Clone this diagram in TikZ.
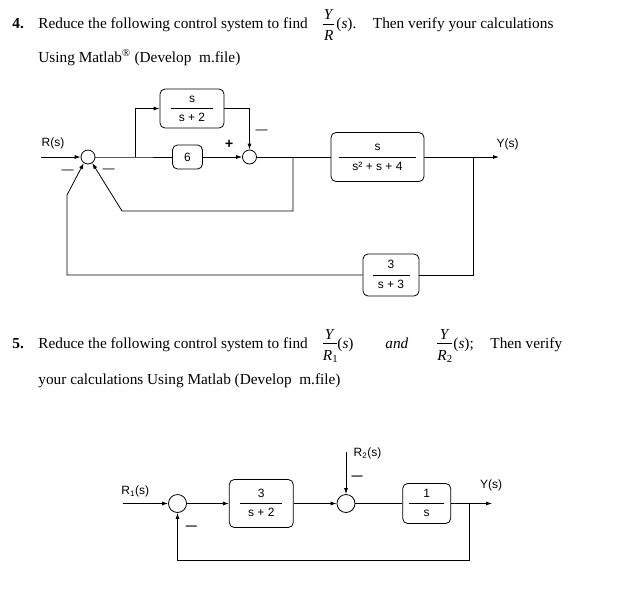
\documentclass[tikz,border=0pt]{standalone}
\usepackage{amsmath}
\usepackage{fontspec}
\setmainfont{Liberation Serif}
\newfontfamily\diagfont{Liberation Sans}
\usetikzlibrary{arrows.meta}

\newcommand{\blockfrac}[3]{\vbox{\hbox to #3{\hfil\vrule height 9pt depth 0pt width 0pt #1\hfil}\kern5.65pt\hrule height 0.7pt\kern3.65pt\hbox to #3{\hfil\vrule height 9pt depth 2pt width 0pt #2\hfil}}}
\newcommand{\qfrac}[3]{\lower12.2pt\vbox{\hbox to #3{\hfil\vrule height 10pt depth 0pt width 0pt#1\hfil}\kern4.15pt\hrule height 0.7pt\kern6.25pt\hbox to #3{\hfil\vrule height 10pt depth 0pt width 0pt#2\hfil}}}

\begin{document}
\begin{tikzpicture}[x=1pt,y=-1pt,line width=0.8pt,
	txt/.style={anchor=base west,inner sep=0pt,font=\fontsize{15.3}{18}\selectfont},
	lbl/.style={inner sep=0pt,font=\diagfont\fontsize{12}{14}\selectfont},
	block/.style={draw,rounded corners=5pt,inner sep=0pt,font=\diagfont\fontsize{12}{14}\selectfont},
	sumnode/.style={draw,circle,inner sep=0pt,minimum size=#1},
	sumnode/.default=14pt,
	sig/.style={-{Latex[length=6pt,width=4pt]}}]
	\useasboundingbox (0,0) rectangle (618,589);

	\node[txt,font=\fontsize{15.3}{18}\selectfont\bfseries] (q4num) at (12,28.5) {4.};
	\node[txt] (q4a) at (38,28.5) {Reduce the following control system to find};
	\node[txt] (q4frac) at (323,28.5) {\qfrac{\textit{Y}}{\textit{R}}{11pt}};
	\node[txt] (q4b) at (336,28.5) {(\textit{s}).};
	\node[txt] (q4c) at (372.5,28.5) {Then verify your calculations};
	\node[txt] (q4d) at (38,62) {Using Matlab\textsuperscript{\textregistered} (Develop\ \ m.file)};

	\node[sumnode] (sum1) at (88,157) {};
	\node[sumnode] (sum2) at (249.5,157) {};
	\node[block,minimum width=64pt,minimum height=39pt] (box1) at (192,108.5) {\blockfrac{s}{s + 2}{42pt}};
	\node[block,minimum width=30pt,minimum height=24pt] (box6) at (187.5,157) {6};
	\node[block,minimum width=93pt,minimum height=49pt] (box2) at (377.5,157) {\blockfrac{s}{s² + s + 4}{77pt}};
	\node[block,minimum width=56pt,minimum height=42pt] (box3) at (391,275) {\blockfrac{3}{s + 3}{37pt}};

	\coordinate (in1) at (41,157);
	\coordinate (out1) at (499,157);
	\coordinate (b1) at (135,157);
	\coordinate (b2) at (293,157);
	\coordinate (b3) at (473,157);
	\coordinate (c1) at (67,275);
	\coordinate (c2) at (67,195);
	\coordinate (c3) at (122,211);

	\draw[sig] (in1) -- (sum1);
	\draw (sum1) -- (b1) -- (box6);
	\draw[sig] (b1) |- (box1);
	\draw[sig] (box1) -| (sum2);
	\draw[sig] (box6) -- (sum2);
	\draw (sum2) -- (box2);
	\draw[sig] (box2) -- (out1);
	\draw (b3) |- (box3);
	\draw[sig] (box3) -- (c1) -- (c2) -- (sum1.235);
	\draw[sig] (b2) |- (c3) -- (sum1.-55);

	\node[lbl] (rlbl) at (53,143) {R(s)};
	\node[lbl] (ylbl) at (507.5,144) {Y(s)};
	\node[lbl,font=\diagfont\fontsize{14}{16}\selectfont\bfseries] (plus2) at (229.3,144) {+};
	\node[lbl] (minus2) at (261.5,132) {—};
	\node[lbl] (minus1a) at (67.5,172) {—};
	\node[lbl] (minus1b) at (108.5,171) {—};

	\node[txt,font=\fontsize{15.3}{18}\selectfont\bfseries] (q5num) at (12,348) {5.};
	\node[txt] (q5a) at (38,348) {Reduce the following control system to find};
	\node[txt] (q5frac1) at (322.5,348) {\qfrac{\textit{Y}}{\textit{R}\textsubscript{1}}{14pt}};
	\node[txt] (q5b) at (337,348) {(\textit{s})};
	\node[txt] (q5and) at (385,348) {\textit{and}};
	\node[txt] (q5frac2) at (437,348) {\qfrac{\textit{Y}}{\textit{R}\textsubscript{2}}{15pt}};
	\node[txt] (q5c) at (453,348) {(\textit{s});};
	\node[txt] (q5d) at (490,348) {Then verify};
	\node[txt] (q5e) at (38,384) {your calculations Using Matlab (Develop\ \ m.file)};

	\node[sumnode=18pt] (sum3) at (177.5,503.5) {};
	\node[sumnode=18pt] (sum4) at (346,503.5) {};
	\node[block,minimum width=64pt,minimum height=48pt] (box4) at (261.3,503.5) {\blockfrac{3}{s + 2}{42pt}};
	\node[block,minimum width=48pt,minimum height=40pt] (box5) at (426.7,503.5) {\blockfrac{1}{s}{35pt}};

	\coordinate (in2) at (122.7,503.5);
	\coordinate (in3) at (346,451.7);
	\coordinate (out2) at (492,503.5);
	\coordinate (b4) at (469.3,503.5);
	\coordinate (c4) at (177.5,560);

	\draw[sig] (in2) -- (sum3);
	\draw[sig] (sum3) -- (box4);
	\draw[sig] (box4) -- (sum4);
	\draw[sig] (in3) -- (sum4);
	\draw (sum4) -- (box5);
	\draw[sig] (box5) -- (out2);
	\draw[sig] (b4) |- (c4) -- (sum3);

	\node[lbl] (r1lbl) at (135.3,491.7) {R\textsubscript{1}(s)};
	\node[lbl] (r2lbl) at (367.5,453.3) {R\textsubscript{2}(s)};
	\node[lbl] (y2lbl) at (491,485) {Y(s)};
	\node[lbl,font=\diagfont\fontsize{11}{13}\selectfont\bfseries] (minus3) at (191.3,527.3) {—};
	\node[lbl,font=\diagfont\fontsize{11}{13}\selectfont\bfseries] (minus4) at (357,478) {—};
\end{tikzpicture}
\end{document}
